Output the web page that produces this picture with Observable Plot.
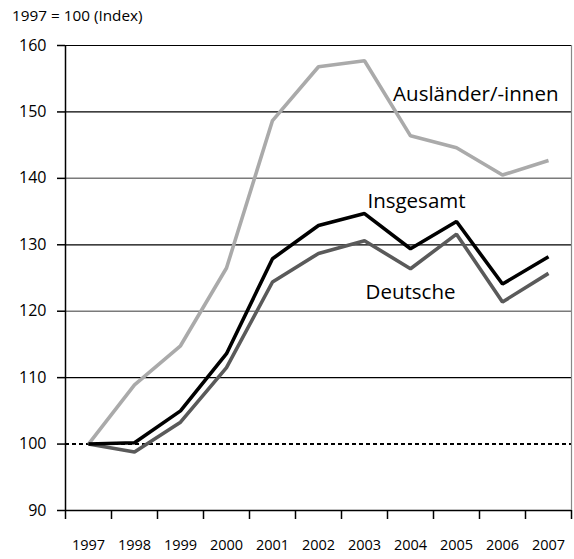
<!DOCTYPE html>
<html>
<head>
<meta charset="utf-8">
<script src="https://cdn.jsdelivr.net/npm/d3@7"></script>
<script src="https://cdn.jsdelivr.net/npm/@observablehq/plot@0.6"></script>
<style>
  body { margin: 0; background: #fff; }
  #sub { height: 28px; font: 15.3px "Open Sans", sans-serif; color: #000; padding-left: 12px; line-height: 31px; box-sizing: border-box; }
  svg { display: block; }
</style>
</head>
<body>
<div id="sub">1997 = 100 (Index)</div>
<div id="chart"></div>
<script>
const years = [1997, 1998, 1999, 2000, 2001, 2002, 2003, 2004, 2005, 2006, 2007];
const insgesamt = [100, 100.2, 105.0, 113.6, 127.9, 132.9, 134.7, 129.4, 133.5, 124.1, 128.2];
const deutsche = [100, 98.8, 103.3, 111.5, 124.4, 128.7, 130.6, 126.4, 131.6, 121.4, 125.7];
const auslaender = [100, 108.9, 114.8, 126.5, 148.7, 156.8, 157.7, 146.4, 144.6, 140.5, 142.7];
const yTicks = [90, 100, 110, 120, 130, 140, 150, 160];
const gridBlack = [110, 130, 150, 160];
const gridGrey = [120, 140];
const seriesNames = ["Ausländer/-innen", "Deutsche", "Insgesamt"];
const seriesColors = ["#aaaaaa", "#5a5a5a", "#000000"];

const rows = [];
[auslaender, deutsche, insgesamt].forEach((vals, i) => {
  years.forEach((yr, j) => rows.push({series: seriesNames[i], year: yr, value: vals[j]}));
});

const boundaries = years.map(y => y - 0.5).concat([years[years.length - 1] + 0.5]);

const labels = [
  {text: "Ausländer/-innen", year: 2005.42, value: 152.6},
  {text: "Insgesamt", year: 2004.13, value: 136.5},
  {text: "Deutsche", year: 2004.0, value: 122.9}
];

const plot = Plot.plot({
  width: 574,
  height: 531,
  marginTop: 17,
  marginBottom: 49,
  marginLeft: 65,
  marginRight: 3,
  style: {fontFamily: "'Open Sans', sans-serif", background: "#fff", color: "#000"},
  x: {type: "linear", domain: [1996.5, 2007.5]},
  y: {domain: [90, 160]},
  color: {domain: seriesNames, range: seriesColors},
  marks: [
    Plot.ruleY(gridBlack, {stroke: "#000", strokeWidth: 1.2}),
    Plot.ruleY(gridGrey, {stroke: "#7a7a7a", strokeWidth: 1.5}),
    Plot.ruleY([100], {stroke: "#000", strokeWidth: 2, strokeDasharray: "4,3"}),
    Plot.ruleY([90], {stroke: "#000", strokeWidth: 1.5}),
    Plot.ruleX([2007.5], {stroke: "#888", strokeWidth: 1.2}),
    Plot.axisY(yTicks, {tickSize: 8, tickPadding: 11, fontSize: 16, stroke: "#000", strokeWidth: 1.5, label: null}),
    Plot.axisX(boundaries, {tickSize: 9, tickFormat: () => "", stroke: "#000", strokeWidth: 1.5, label: null}),
    Plot.axisX(years, {tickSize: 0, tickPadding: 29, fontSize: 14.5, tickFormat: d => String(d), label: null}),
    Plot.ruleX([1996.5], {stroke: "#000", strokeWidth: 1.5}),
    Plot.line(rows, {x: "year", y: "value", z: "series", stroke: "series", strokeWidth: 3.6, strokeLinejoin: "miter", strokeLinecap: "butt"}),
    Plot.text(labels, {x: "year", y: "value", text: "text", fontSize: 20.5, textAnchor: "middle", fill: "#000"})
  ]
});
document.getElementById("chart").appendChild(plot);
</script>
</body>
</html>
